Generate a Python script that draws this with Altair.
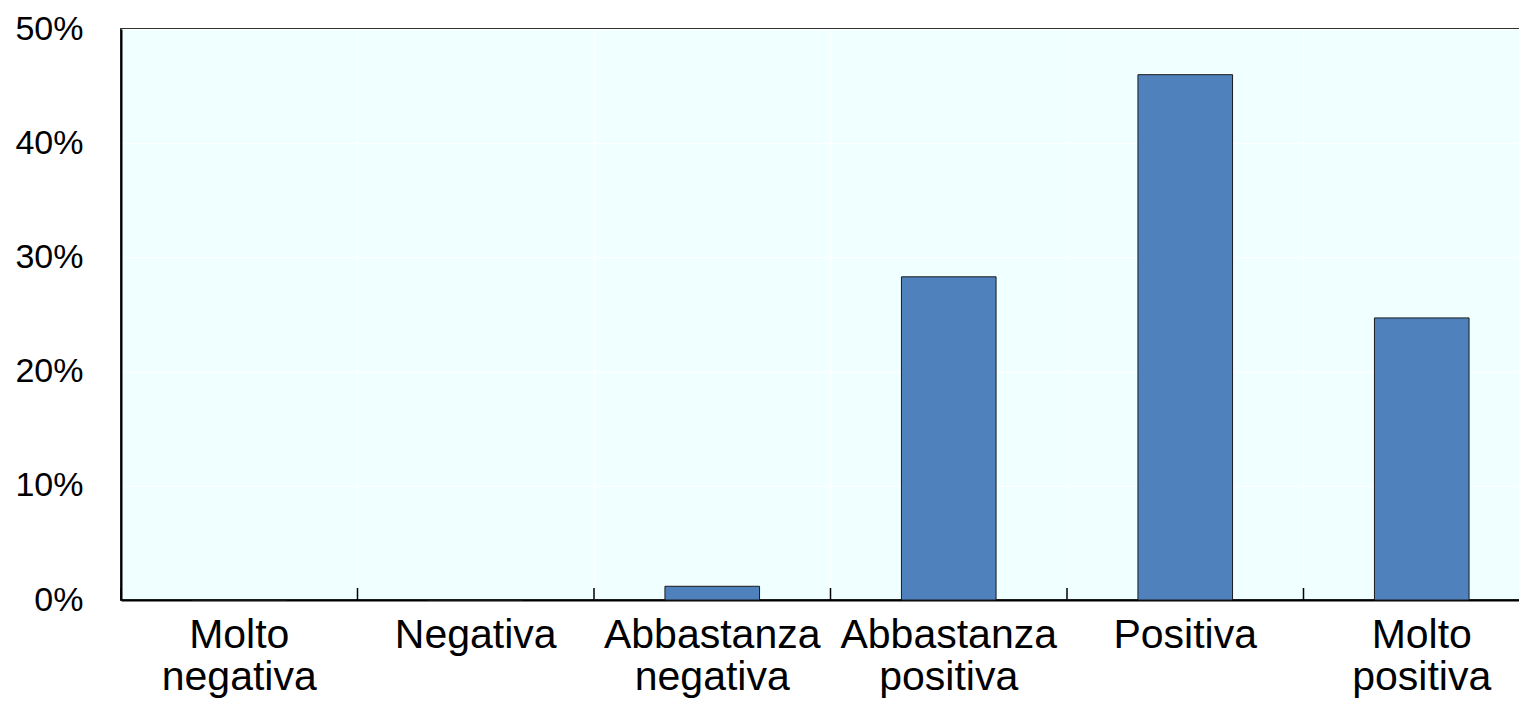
import altair as alt
import pandas as pd

categories = ["Molto negativa", "Negativa", "Abbastanza negativa",
              "Abbastanza positiva", "Positiva", "Molto positiva"]
values = [0.0, 0.0, 1.2, 28.3, 46.0, 24.7]
y_ticks = [0, 10, 20, 30, 40, 50]

df = pd.DataFrame({"cat": categories, "val": values})

W, H = 1419, 571
FONT = "Liberation Sans"

x_enc = alt.X(
    "cat:N", sort=categories, title=None,
    scale=alt.Scale(paddingInner=0, paddingOuter=0),
    axis=alt.Axis(
        bandPosition=0, ticks=False, grid=True, gridColor="white", gridWidth=1,
        domainColor="black", domainWidth=2, labelAngle=0,
        labelFont=FONT, labelFontSize=41, labelColor="black",
        labelExpr="split(datum.label, ' ')", labelLineHeight=42,
        labelPadding=15, labelBaseline="top", labelLimit=0,
    ),
)

bars = alt.Chart(df).mark_bar(
    width=alt.RelativeBandSize(0.4), color="#4F81BD", stroke="#1a1a1a", strokeWidth=1
).encode(
    x=x_enc,
    y=alt.Y(
        "val:Q", title=None,
        scale=alt.Scale(domain=[0, 50], nice=False),
        axis=alt.Axis(
            values=y_ticks, ticks=False, grid=True, gridColor="white", gridWidth=1,
            domainColor="black", domainWidth=2,
            labelFont=FONT, labelFontSize=34, labelColor="black",
            labelExpr="datum.value + '%'", labelPadding=38,
        ),
    ),
)

ticks = alt.Chart(df).mark_rule(color="black", strokeWidth=1.5).encode(
    x=alt.X("cat:N", sort=categories, bandPosition=0),
    y=alt.value(H - 12),
    y2=alt.value(H),
)

chart = alt.layer(bars, ticks).properties(
    width=W, height=H,
    autosize=alt.AutoSizeParams(type="none"),
    padding={"left": 113, "top": 21, "right": -21, "bottom": 111},
    background="white",
).configure_view(
    fill="#F0FFFF", stroke="#333333", strokeWidth=2
)

chart.save("out.html", embed_options={"renderer": "svg", "actions": False})
